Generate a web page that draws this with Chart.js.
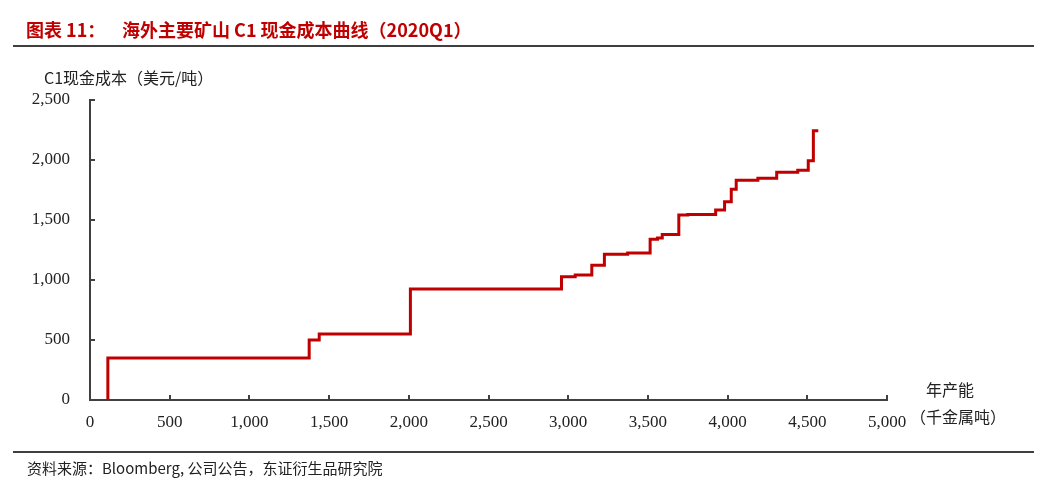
<!DOCTYPE html>
<html>
<head>
<meta charset="utf-8">
<script src="https://cdn.jsdelivr.net/npm/chart.js@4"></script>
<style>
  body { margin: 0; background: #fff; }
  canvas { display: block; }
</style>
</head>
<body>
<canvas id="costChart" width="1044" height="496"></canvas>
<script>
// 累计年产能（千金属吨）与对应C1现金成本（美元/吨）
const capacity = [112, 112, 1375, 1438, 2010, 2958, 3044, 3148, 3227, 3373, 3514, 3560, 3590, 3694, 3750, 3925, 3981, 4023, 4054, 4190, 4308, 4440, 4506, 4538, 4569];
const c1Cost   = [0, 350, 500, 550, 925, 1028, 1042, 1122, 1214, 1225, 1339, 1350, 1380, 1542, 1545, 1583, 1653, 1756, 1831, 1847, 1897, 1914, 1994, 2244, 2244];

const xTicks = [0, 500, 1000, 1500, 2000, 2500, 3000, 3500, 4000, 4500, 5000];
const yTicks = [0, 500, 1000, 1500, 2000, 2500];

const serif = '"Liberation Serif", "Times New Roman", serif';
const cjk = '"Noto Sans CJK SC", "Liberation Serif", serif';
const textColor = '#222';

const points = capacity.map((x, i) => ({ x: x, y: c1Cost[i] }));

// 标题、来源、轴标题和内向刻度
const decor = {
  id: 'decor',
  afterDraw(chart) {
    const ctx = chart.ctx;
    const xs = chart.scales.x, ys = chart.scales.y;
    ctx.save();

    // 标题
    ctx.fillStyle = '#c00000';
    ctx.textBaseline = 'middle';
    ctx.font = 'bold 18px ' + cjk;
    ctx.fillText('图表 11：', 26, 30);
    ctx.fillText('海外主要矿山 C1 现金成本曲线（2020Q1）', 122, 30);

    // 分隔线
    ctx.strokeStyle = '#000';
    ctx.lineWidth = 1.5;
    ctx.beginPath();
    ctx.moveTo(13, 46); ctx.lineTo(1034, 46);
    ctx.moveTo(13, 452); ctx.lineTo(1034, 452);
    ctx.stroke();

    // 来源
    ctx.fillStyle = textColor;
    ctx.font = '15px ' + cjk;
    ctx.fillText('资料来源：Bloomberg, 公司公告，东证衍生品研究院', 27, 468);

    // 轴标题
    ctx.font = '16px ' + cjk;
    ctx.fillText('C1现金成本（美元/吨）', 44, 78);
    ctx.textAlign = 'center';
    ctx.fillText('年产能', 950, 390);
    ctx.fillText('（千金属吨）', 958, 417);

    // 内向刻度
    ctx.strokeStyle = '#404040';
    ctx.lineWidth = 2;
    ctx.beginPath();
    xTicks.forEach(v => {
      if (v === 0) return;
      const px = Math.round(xs.getPixelForValue(v));
      ctx.moveTo(px, ys.bottom); ctx.lineTo(px, ys.bottom - 5);
    });
    yTicks.forEach(v => {
      if (v === 0) return;
      const py = Math.round(ys.getPixelForValue(v));
      ctx.moveTo(xs.left, py); ctx.lineTo(xs.left + 5, py);
    });
    ctx.stroke();
    ctx.restore();
  }
};

new Chart(document.getElementById('costChart'), {
  type: 'line',
  data: {
    datasets: [{
      label: 'C1现金成本',
      data: points,
      stepped: 'before',
      borderColor: '#c00000',
      borderWidth: 3,
      pointRadius: 0,
      fill: false
    }]
  },
  options: {
    responsive: false,
    animation: false,
    layout: { padding: { top: 100, right: 157, left: 0, bottom: 0 } },
    plugins: {
      legend: { display: false },
      tooltip: { enabled: false }
    },
    scales: {
      x: {
        type: 'linear',
        min: 0,
        max: 5000,
        afterFit(s) { s.height = 96; },
        afterBuildTicks(s) { s.ticks = xTicks.map(v => ({ value: v })); },
        grid: { display: false, drawTicks: false },
        border: { display: true, color: '#404040', width: 2 },
        ticks: {
          padding: 12,
          color: textColor,
          font: { family: serif, size: 17 },
          maxRotation: 0,
          callback: v => v.toLocaleString('en-US')
        }
      },
      y: {
        min: 0,
        max: 2500,
        afterFit(s) { s.width = 90; },
        afterBuildTicks(s) { s.ticks = yTicks.map(v => ({ value: v })); },
        grid: { display: false, drawTicks: false },
        border: { display: true, color: '#404040', width: 2 },
        ticks: {
          padding: 20,
          color: textColor,
          font: { family: serif, size: 17 },
          callback: v => v.toLocaleString('en-US')
        }
      }
    }
  },
  plugins: [decor]
});
</script>
</body>
</html>
